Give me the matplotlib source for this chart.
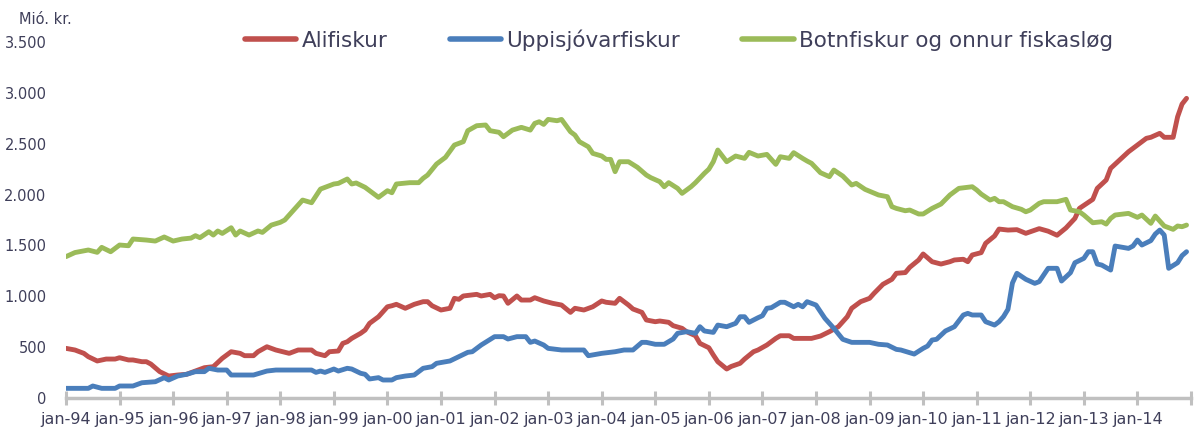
import matplotlib
matplotlib.use("Agg")
import matplotlib.pyplot as plt
from matplotlib.ticker import FuncFormatter

# Months since jan-94 and values (Mió. kr.)
ali_m = [0, 2, 4, 5, 7, 9, 11, 12, 14, 15, 17, 18, 19, 21, 23, 25, 27, 29, 31, 33, 35, 37, 39, 40,
         42, 43, 45, 47, 50, 52, 55, 56, 58, 59, 61, 62, 63, 64, 66, 67, 68, 70, 72, 73, 74, 76, 78,
         80, 81, 82, 84, 86, 87, 88, 89, 92, 93, 95, 96, 97, 98, 99, 101, 102, 104, 105, 107, 109,
         111, 113, 114, 116, 118, 120, 121, 123, 124, 126, 127, 129, 130, 132, 133, 135, 136, 138,
         139, 141, 142, 144, 145, 146, 148, 149, 151, 152, 154, 155, 157, 159, 160, 162, 163, 165,
         167, 169, 171, 173, 175, 176, 178, 180, 181, 183, 185, 186, 188, 189, 191, 192, 194, 196,
         198, 199, 201, 202, 203, 205, 206, 208, 209, 211, 213, 215, 218, 220, 222, 224, 226, 227,
         230, 231, 233, 234, 236, 238, 240, 242, 243, 245, 246, 248, 249, 250, 251]
ali_v = [488, 472, 439, 406, 364, 383, 383, 396, 374, 374, 357, 357, 334, 259, 216, 226, 233, 265,
         298, 308, 390, 455, 439, 416, 416, 455, 504, 472, 439, 472, 472, 439, 416, 455, 462, 537,
         553, 586, 636, 668, 734, 799, 897, 907, 921, 882, 921, 947, 947, 907, 865, 882, 980, 970,
         1003, 1019, 1003, 1019, 985, 1006, 1003, 931, 1003, 963, 963, 986, 954, 931, 914, 842, 882,
         865, 897, 954, 941, 931, 980, 914, 875, 842, 767, 750, 757, 744, 711, 685, 652, 612, 537,
         494, 423, 357, 285, 310, 341, 383, 455, 472, 521, 586, 612, 612, 586, 586, 586, 609, 652,
         701, 799, 882, 947, 980, 1029, 1118, 1167, 1226, 1233, 1285, 1357, 1416, 1340, 1317, 1340,
         1357, 1364, 1340, 1406, 1429, 1521, 1593, 1661, 1651, 1655, 1619, 1665, 1640, 1600, 1672,
         1766, 1864, 1953, 2061, 2143, 2258, 2340, 2421, 2487, 2553, 2563, 2602, 2563, 2563, 2765,
         2890, 2946]

upp_m = [0, 5, 6, 8, 11, 12, 15, 17, 20, 22, 23, 25, 27, 29, 31, 32, 34, 36, 37, 42, 45, 47, 55,
         56, 57, 58, 60, 61, 63, 64, 66, 67, 68, 70, 71, 73, 74, 76, 78, 80, 82, 83, 86, 88, 90, 91,
         93, 96, 98, 99, 101, 103, 104, 105, 107, 108, 111, 116, 117, 120, 123, 125, 127, 129, 130,
         132, 134, 136, 137, 139, 141, 142, 143, 145, 146, 148, 150, 151, 152, 153, 155, 156, 157,
         158, 160, 161, 163, 164, 165, 166, 168, 170, 172, 174, 176, 180, 182, 184, 186, 187, 190,
         192, 193, 194, 195, 197, 199, 201, 202, 203, 205, 206, 208, 209, 210, 211, 212, 213, 215,
         217, 218, 220, 222, 223, 225, 226, 228, 229, 230, 231, 232, 234, 235, 238, 239, 240, 241,
         243, 244, 245, 246, 247, 249, 250, 251]
upp_v = [95, 95, 118, 95, 95, 118, 118, 150, 160, 200, 177, 216, 233, 259, 259, 292, 275, 275, 226,
         226, 265, 275, 275, 252, 265, 252, 285, 265, 292, 285, 243, 233, 187, 200, 177, 177, 200,
         216, 226, 292, 308, 341, 364, 406, 449, 455, 521, 603, 603, 580, 603, 603, 547, 560, 521,
         488, 472, 472, 416, 439, 455, 472, 472, 547, 547, 528, 528, 580, 636, 652, 636, 701, 659,
         645, 717, 701, 734, 799, 799, 744, 789, 809, 882, 888, 941, 941, 897, 921, 897, 947, 914,
         783, 685, 577, 547, 547, 528, 521, 478, 472, 432, 488, 511, 570, 577, 659, 701, 816, 832,
         816, 816, 750, 717, 750, 800, 872, 1130, 1226, 1167, 1127, 1144, 1275, 1275, 1150, 1232,
         1330, 1373, 1438, 1438, 1317, 1307, 1258, 1494, 1471, 1494, 1553, 1504, 1547, 1612, 1651,
         1602, 1275, 1330, 1400, 1438]

bot_m = [0, 2, 5, 7, 8, 10, 12, 14, 15, 18, 20, 22, 24, 26, 28, 29, 30, 32, 33, 34, 35, 37, 38,
         39, 41, 43, 44, 46, 48, 49, 50, 51, 53, 55, 57, 60, 61, 63, 64, 65, 67, 70, 72, 73, 74, 77,
         79, 80, 81, 83, 85, 87, 89, 90, 92, 94, 95, 97, 98, 100, 102, 104, 105, 106, 107, 108, 110,
         111, 113, 114, 115, 117, 118, 120, 121, 122, 123, 124, 126, 128, 130, 131, 133, 134, 135,
         137, 138, 140, 141, 143, 144, 145, 146, 148, 150, 152, 153, 155, 157, 159, 160, 162, 163,
         165, 166, 167, 169, 171, 172, 174, 176, 177, 179, 182, 184, 185, 186, 188, 189, 191, 192,
         194, 196, 198, 200, 203, 204, 205, 207, 208, 209, 210, 212, 214, 215, 216, 218, 219, 222,
         224, 225, 227, 228, 230, 232, 233, 234, 235, 238, 240, 241, 243, 244, 246, 248, 249, 250,
         251]
bot_v = [1390, 1430, 1455, 1432, 1481, 1438, 1504, 1497, 1563, 1553, 1543, 1583, 1543, 1563, 1572,
         1596, 1576, 1635, 1602, 1642, 1618, 1674, 1602, 1642, 1602, 1642, 1628, 1700, 1727, 1750,
         1799, 1848, 1946, 1920, 2054, 2104, 2110, 2153, 2104, 2114, 2071, 1973, 2038, 2018, 2104,
         2117, 2117, 2160, 2192, 2300, 2366, 2487, 2520, 2628, 2677, 2684, 2628, 2612, 2569, 2634,
         2661, 2634, 2700, 2716, 2690, 2739, 2726, 2739, 2618, 2585, 2520, 2470, 2405, 2379, 2346,
         2346, 2225, 2323, 2323, 2268, 2192, 2166, 2127, 2077, 2117, 2061, 2012, 2077, 2117, 2209,
         2250, 2323, 2438, 2323, 2379, 2356, 2415, 2379, 2395, 2297, 2372, 2356, 2412, 2356, 2330,
         2307, 2215, 2176, 2241, 2182, 2094, 2110, 2051, 1996, 1979, 1881, 1864, 1841, 1848, 1809,
         1809, 1864, 1907, 1996, 2061, 2077, 2045, 2005, 1946, 1963, 1930, 1930, 1881, 1855, 1831,
         1848, 1914, 1930, 1930, 1953, 1848, 1831, 1799, 1723, 1733, 1710, 1766, 1799, 1815, 1776,
         1799, 1717, 1789, 1691, 1658, 1691, 1684, 1700]

series_names = ["Alifiskur", "Uppisjóvarfiskur", "Botnfiskur og onnur fiskasløg"]
years = list(range(1994, 2015))
yticks = [0, 500, 1000, 1500, 2000, 2500, 3000, 3500]

colors = ["#C0504D", "#4A7EBB", "#9BBB59"]
text_color = "#3F3F5A"

fig = plt.figure(figsize=(12.01, 4.30), dpi=100)
ax = fig.add_axes([66 / 1201, 32 / 430, (1191 - 66) / 1201, (398 - 42) / 430])

for m, v, name, c in zip([ali_m, upp_m, bot_m], [ali_v, upp_v, bot_v], series_names, colors):
    ax.plot(m, v, color=c, lw=3.5, label=name, solid_joinstyle="round", solid_capstyle="round")

ax.set_xlim(0, 252)
ax.set_ylim(0, 3500)
ax.set_yticks(yticks)
ax.yaxis.set_major_formatter(FuncFormatter(lambda v, p: f"{int(v):,}".replace(",", ".")))
ax.set_xticks([12 * i for i in range(len(years) + 1)])
ax.set_xticklabels([f"jan-{y % 100:02d}" for y in years] + [""])

for s in ["top", "right", "left"]:
    ax.spines[s].set_visible(False)
ax.spines["bottom"].set_color("#C0C0C0")
ax.spines["bottom"].set_linewidth(2.5)
ax.spines["bottom"].set_zorder(0)
ax.tick_params(axis="x", direction="inout", length=10, width=2.2, color="#C0C0C0",
               labelsize=11.5, labelcolor=text_color, pad=5)
ax.tick_params(axis="y", length=0, labelsize=10.5, labelcolor=text_color, pad=14)
ax.set_facecolor("none")

fig.text(19 / 1201, 1 - 20 / 430, "Mió. kr.", fontsize=10.5, color=text_color, va="center", ha="left")

leg = fig.legend(loc="center", bbox_to_anchor=(679 / 1201, 1 - 40 / 430), ncol=3, frameon=False,
                 fontsize=15.5, handlelength=2.4, handletextpad=0.23, columnspacing=2.9,
                 labelcolor=text_color)
for h in leg.get_lines():
    h.set_linewidth(4)

fig.savefig("out.png", dpi=100)
